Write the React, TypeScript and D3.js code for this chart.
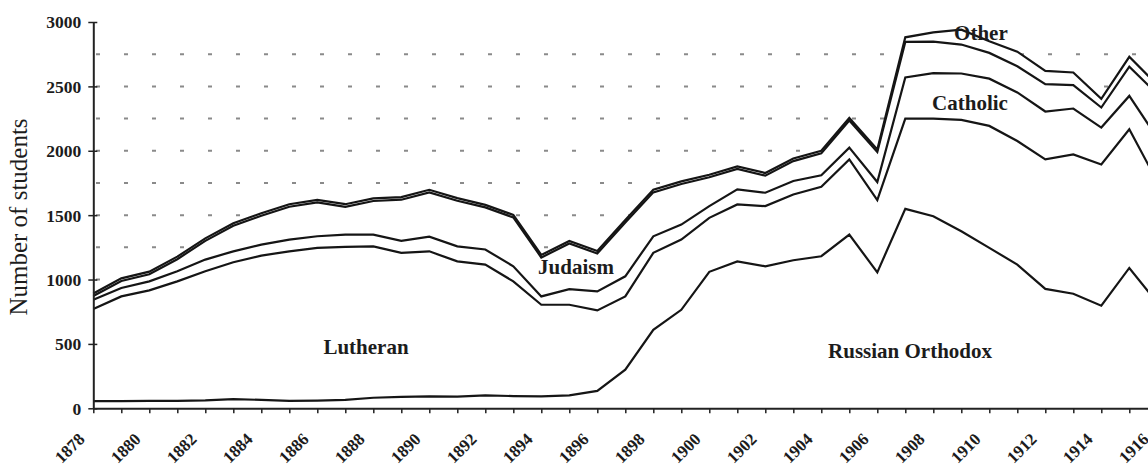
import { useEffect, useRef } from "react";
import * as d3 from "d3";

// school years shown on the axis
const years = [
  1878, 1879, 1880, 1881, 1882, 1883, 1884, 1885, 1886, 1887,
  1888, 1889, 1890, 1891, 1892, 1893, 1894, 1895, 1896, 1897,
  1898, 1899, 1900, 1901, 1902, 1903, 1904, 1905, 1906, 1907,
  1908, 1909, 1910, 1911, 1912, 1913, 1914, 1915, 1916,
];

// students per confession (stacked bottom to top)
const russianOrthodox = [
  55, 55, 57, 58, 62, 72, 65, 58, 60, 65,
  82, 88, 92, 90, 100, 95, 92, 100, 135, 300,
  610, 765, 1060, 1141, 1103, 1150, 1181, 1349, 1056, 1549,
  1492, 1375, 1246, 1116, 927, 890, 797, 1090, 820,
];
const lutheran = [
  716, 814, 859, 928, 1002, 1062, 1121, 1161, 1186, 1189,
  1176, 1119, 1127, 1051, 1016, 891, 712, 704, 625, 569,
  597, 545, 419, 442, 467, 510, 540, 584, 561, 701,
  758, 865, 947, 960, 1006, 1082, 1097, 1077, 940,
];
const catholic = [
  72, 65, 70, 78, 91, 85, 85, 91, 90, 95,
  91, 93, 114, 117, 117, 117, 65, 122, 148, 156,
  129, 117, 91, 117, 104, 105, 88, 91, 140, 320,
  353, 360, 367, 377, 372, 356, 286, 259, 340,
];
const judaism = [
  29, 55, 55, 94, 145, 198, 224, 255, 263, 216,
  261, 320, 344, 354, 327, 379, 302, 354, 294, 418,
  341, 315, 224, 159, 133, 155, 171, 211, 233, 275,
  244, 225, 200, 203, 212, 182, 156, 227, 340,
];
const other = [
  20, 20, 20, 20, 20, 20, 20, 20, 20, 20,
  20, 20, 20, 20, 20, 20, 20, 20, 20, 20,
  20, 20, 20, 20, 20, 20, 20, 20, 20, 36,
  73, 115, 90, 114, 104, 98, 68, 77, 70,
];

const yTicks = [0, 500, 1000, 1500, 2000, 2500, 3000];
const gridValues = [250, 500, 750, 1000, 1250, 1500, 1750, 2000, 2250, 2500, 2750];

const labels = [
  { text: "Lutheran", year: 1887.74, value: 425 },
  { text: "Judaism", year: 1895.24, value: 1040 },
  { text: "Russian Orthodox", year: 1907.17, value: 390 },
  { text: "Catholic", year: 1909.31, value: 2320 },
  { text: "Other", year: 1909.7, value: 2860 },
];

const FONT = "'Liberation Serif', 'Times New Roman', serif";

function App() {
  const width = 1148, height = 466;
  const svgRef = useRef<SVGSVGElement>(null);

  useEffect(() => {
    const svg = d3.select(svgRef.current).attr("width", width).attr("height", height);
    svg.selectAll("*").remove();

    const x = d3.scaleLinear().domain([1878, 1916]).range([93.3, 1157.3]);
    const y = d3.scaleLinear().domain([0, 3000]).range([408.3, 22]);

    const keys = ["russianOrthodox", "lutheran", "catholic", "judaism", "other"];
    const table = years.map((year, i) => ({
      year,
      russianOrthodox: russianOrthodox[i],
      lutheran: lutheran[i],
      catholic: catholic[i],
      judaism: judaism[i],
      other: other[i],
    }));
    const series = d3.stack<any>().keys(keys)(table);

    svg.append("rect").attr("width", width).attr("height", height).attr("fill", "#fff");

    // dotted gridlines
    svg.append("g")
      .selectAll("line")
      .data(gridValues)
      .enter().append("line")
      .attr("x1", 96)
      .attr("x2", width + 20)
      .attr("y1", (d) => y(d))
      .attr("y2", (d) => y(d))
      .attr("stroke", "#8a8a8a")
      .attr("stroke-width", 2)
      .attr("stroke-dasharray", "4 24");

    // white fill under the stack hides the grid
    const top = series[series.length - 1];
    const area = d3.area<any>()
      .x((d) => x(d.data.year))
      .y0(y(0))
      .y1((d) => y(d[1]));
    svg.append("path").datum(top).attr("d", area).attr("fill", "#fff");

    const line = d3.line<any>()
      .x((d) => x(d.data.year))
      .y((d) => y(d[1]));

    svg.append("g")
      .selectAll("path")
      .data(series)
      .enter().append("path")
      .attr("d", (s) => line(s))
      .attr("fill", "none")
      .attr("stroke", "#151515")
      .attr("stroke-width", 2.2);

    // y axis
    const gy = svg.append("g")
      .attr("transform", `translate(${x(1878)},0)`)
      .call(d3.axisLeft(y).tickValues(yTicks).tickFormat(d3.format("d"))
        .tickSizeInner(5).tickSizeOuter(0).tickPadding(7));
    gy.select(".domain").attr("stroke", "#222").attr("stroke-width", 2);
    gy.selectAll(".tick line").attr("stroke", "#222").attr("stroke-width", 1.5).attr("x2", -5).attr("x1", 4);
    gy.selectAll(".tick text")
      .attr("font-family", FONT)
      .attr("font-size", 17.5)
      .attr("font-weight", "bold")
      .attr("fill", "#1c1c1c")
      .attr("dy", "0.34em");

    // x axis
    const gx = svg.append("g")
      .attr("transform", `translate(0,${y(0)})`)
      .call(d3.axisBottom(x).tickValues(years).tickSizeInner(5).tickSizeOuter(0)
        .tickFormat((d: any) => (d % 2 === 0 ? String(d) : "")));
    gx.select(".domain").attr("stroke", "#222").attr("stroke-width", 2);
    gx.selectAll(".tick line").attr("stroke", "#222").attr("stroke-width", 1.5);
    gx.selectAll(".tick text")
      .attr("font-family", FONT)
      .attr("font-size", 17)
      .attr("font-weight", "bold")
      .attr("fill", "#1c1c1c")
      .attr("text-anchor", "end")
      .attr("x", 0)
      .attr("y", 0)
      .attr("dy", 0)
      .attr("transform", "translate(-8,32) rotate(-45)");

    // axis title
    svg.append("text")
      .attr("transform", "translate(27,217) rotate(-90)")
      .attr("text-anchor", "middle")
      .attr("font-family", FONT)
      .attr("font-size", 25)
      .attr("fill", "#1c1c1c")
      .text("Number of students");

    // series labels
    svg.append("g")
      .selectAll("text")
      .data(labels)
      .enter().append("text")
      .attr("x", (d) => x(d.year))
      .attr("y", (d) => y(d.value))
      .attr("text-anchor", "middle")
      .attr("font-family", FONT)
      .attr("font-size", 21)
      .attr("font-weight", "bold")
      .attr("fill", "#1c1c1c")
      .text((d) => d.text);
  }, []);

  return (
    <div style={{ position: "absolute", left: 0, top: 0, width, height, overflow: "hidden" }}>
      <svg ref={svgRef} style={{ display: "block" }}></svg>
    </div>
  );
}

export default App;
